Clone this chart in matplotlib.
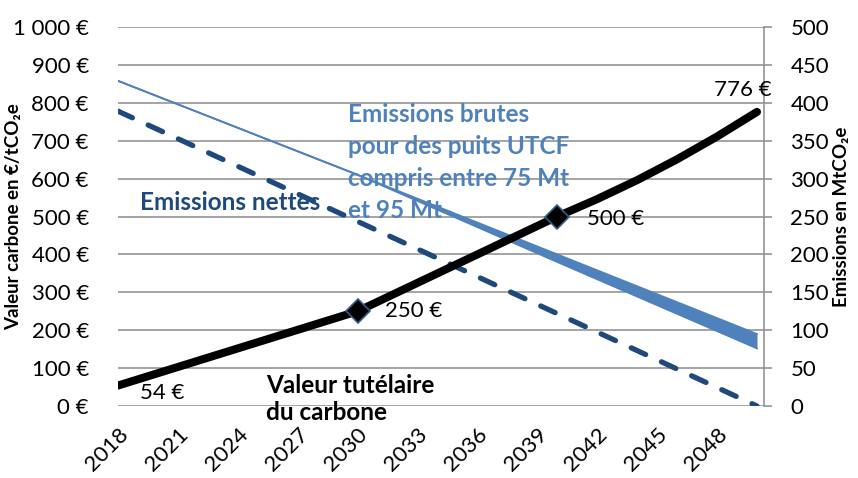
import matplotlib
matplotlib.use("Agg")
import matplotlib.pyplot as plt

plt.rcParams["font.family"] = ["Lato", "DejaVu Sans"]

# Valeur tutélaire du carbone (€/tCO2e), left axis
carbon_years = [2018, 2030, 2040, 2042, 2044, 2046, 2048, 2050]
carbon_values = [54, 250, 500, 546, 596, 651, 711, 776]
carbon_marker_years = [2030, 2040]
carbon_marker_values = [250, 500]

# Emissions (MtCO2e), right axis
net_years = [2018, 2034, 2050]
net_values = [389, 195, 0]
gross_years = [2018, 2030, 2040, 2050]
gross_high = [429, 305, 200, 95]   # puits UTCF 75 Mt
gross_low = [429, 305, 190, 76]    # puits UTCF 95 Mt

year_ticks = list(range(2018, 2050, 3))
left_ticks = list(range(0, 1001, 100))
right_ticks = list(range(0, 501, 50))

BLUE = "#4F81BD"
DARK_BLUE = "#1F497D"
GRID = "#8C8C8C"


def euro(v):
    return f"{v:,.0f} €".replace(",", " ")


fig = plt.figure(figsize=(8.58, 4.78), dpi=100)
ax = fig.add_axes([0.1375, 0.1506, 0.7529, 0.7929])
ax2 = ax.twinx()
ax.set_zorder(ax2.get_zorder() + 1)
ax.patch.set_visible(False)

# emissions on the back axis, with the gridlines
ax2.fill_between(gross_years, gross_low, gross_high, color=BLUE, linewidth=0)
ax2.plot(gross_years, gross_high, color=BLUE, linewidth=1.3)
ax2.plot(gross_years, gross_low, color=BLUE, linewidth=1.3)
ax2.plot(net_years, net_values, color=DARK_BLUE, linewidth=3.8,
         dashes=(3.0, 3.3), dash_capstyle="round")
ax2.set_ylim(0, 500)
ax2.set_yticks(right_ticks)
ax2.set_axisbelow(True)
ax2.grid(True, axis="y", color=GRID, linewidth=1.1)
ax2.tick_params(axis="y", labelsize=16, length=6, width=1.1, color=GRID, pad=13)
ax2.set_ylabel("Emissions en MtCO₂e", fontsize=13.5, fontweight="bold")
ax2.yaxis.set_label_coords(1.107, 0.5)

# carbon value on the front axis
ax.plot(carbon_years, carbon_values, color="black", linewidth=5.8,
        solid_capstyle="round")
ax.plot(carbon_marker_years, carbon_marker_values, linestyle="none",
        marker="D", markersize=12.5, markerfacecolor="black",
        markeredgecolor="#385D8A", markeredgewidth=1.2)
ax.set_ylim(0, 1000)
ax.set_yticks(left_ticks)
ax.set_yticklabels([euro(v) for v in left_ticks])
ax.tick_params(axis="y", labelsize=16, length=0, pad=21)
ax.set_ylabel("Valeur carbone en €/tCO₂e", fontsize=13.5, fontweight="bold")
ax.yaxis.set_label_coords(-0.148, 0.5)

ax.set_xlim(2018, 2050.35)
ax.set_xticks(year_ticks)
ax.set_xticklabels([str(y) for y in year_ticks], rotation=45, ha="right",
                   va="top", rotation_mode="anchor")
ax.tick_params(axis="x", labelsize=16, length=0, pad=13)
ax2.tick_params(axis="x", length=0)

for a in (ax, ax2):
    for side in ("top", "left", "bottom", "right"):
        a.spines[side].set_visible(False)
ax2.spines["right"].set_visible(True)
ax2.spines["right"].set_color(GRID)
ax2.spines["right"].set_linewidth(1.1)

# value labels
ax.text(2020.2, 34, "54 €", fontsize=16, ha="center", va="center")
ax.text(2032.8, 250, "250 €", fontsize=16, ha="center", va="center")
ax.text(2042.9, 493, "500 €", fontsize=16, ha="center", va="center")
ax.text(2049.3, 834, "776 €", fontsize=16, ha="center", va="center")

# series captions
ax.text(2025.4, 84, "Valeur tutélaire\ndu carbone", fontsize=17.5,
        fontweight="bold", ha="left", va="top", linespacing=1.18,
        clip_on=False)
ax.text(2019.1, 536, "Emissions nettes", fontsize=17.5, fontweight="bold",
        color=DARK_BLUE, ha="left", va="center")
ax.text(2029.5, 800,
        "Emissions brutes\npour des puits UTCF\ncompris entre 75 Mt\net 95 Mt",
        fontsize=17.5, fontweight="bold", color=BLUE, ha="left", va="top",
        linespacing=1.48)

fig.savefig("out.png", dpi=100, facecolor="white")
